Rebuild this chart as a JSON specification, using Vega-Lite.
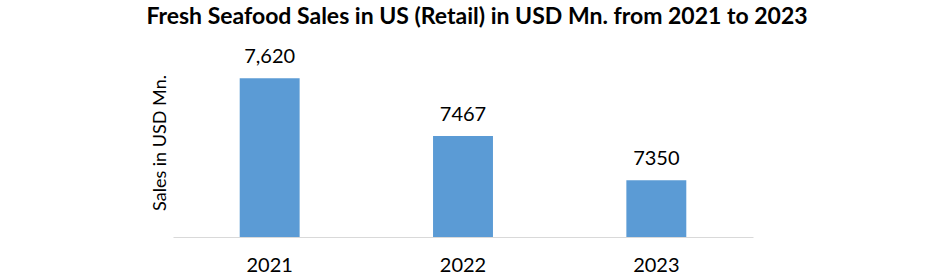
{
  "$schema": "https://vega.github.io/schema/vega-lite/v6.json",
  "autosize": {"type": "none"},
  "padding": {"left": 173, "top": 48, "right": 180, "bottom": 38},
  "width": 580,
  "height": 189,
  "background": "white",
  "title": {
    "text": "Fresh Seafood Sales in US (Retail) in USD Mn. from 2021 to 2023",
    "font": "Lato",
    "fontSize": 23,
    "fontWeight": "bold",
    "color": "#000000",
    "anchor": "middle",
    "baseline": "alphabetic",
    "offset": 0,
    "dx": 14
  },
  "data": {
    "values": [
      {"year": "2021", "sales": 7620, "label": "7,620"},
      {"year": "2022", "sales": 7467, "label": "7467"},
      {"year": "2023", "sales": 7350, "label": "7350"}
    ]
  },
  "encoding": {
    "x": {
      "field": "year",
      "type": "nominal",
      "scale": {"paddingInner": 0.69, "paddingOuter": 0.345},
      "axis": {
        "title": null,
        "labelAngle": 0,
        "labelFont": "Lato",
        "labelFontSize": 20,
        "labelColor": "#000000",
        "labelPadding": 18,
        "ticks": false,
        "domainColor": "#d9d9d9",
        "domainWidth": 1
      }
    },
    "y": {
      "field": "sales",
      "type": "quantitative",
      "scale": {"domain": [7200, 7700], "zero": false, "nice": false},
      "axis": {
        "title": "Sales in USD Mn.",
        "titleFont": "Lato",
        "titleFontSize": 18,
        "titleFontWeight": "normal",
        "titleColor": "#000000",
        "titlePadding": 4,
        "labels": false,
        "ticks": false,
        "domain": false,
        "grid": false
      }
    }
  },
  "layer": [
    {
      "mark": {"type": "bar", "color": "#5B9BD5"},
      "encoding": {"y2": {"datum": 7200}}
    },
    {
      "mark": {"type": "text", "font": "Lato", "fontSize": 20, "color": "#000000", "baseline": "alphabetic", "dy": -15},
      "encoding": {"text": {"field": "label", "type": "nominal"}}
    }
  ],
  "config": {"view": {"stroke": null}}
}
